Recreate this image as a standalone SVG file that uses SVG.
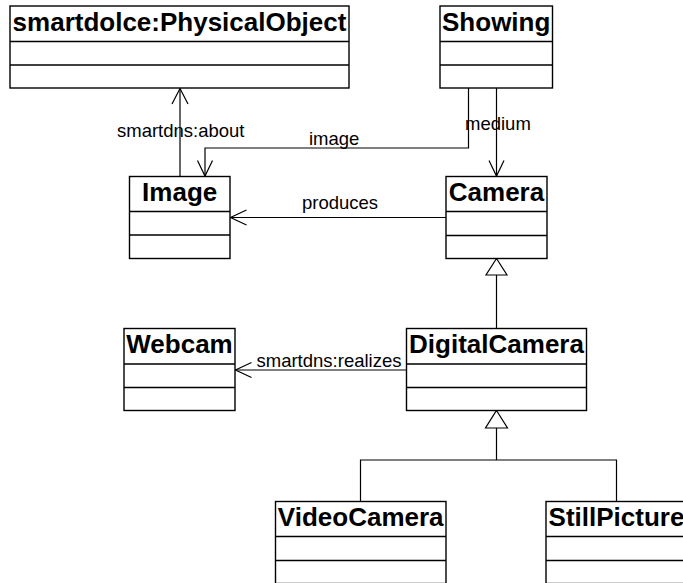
<svg xmlns="http://www.w3.org/2000/svg" width="683" height="583" viewBox="0 0 683 583">
<style>
.box{fill:#fff;stroke:#000;stroke-width:1.4}
.div{stroke:#000;stroke-width:1.4}
.title{font-family:"Liberation Sans",Arial,sans-serif;font-weight:bold;font-size:26px;fill:#000;text-anchor:middle}
.lbl{font-family:"Liberation Sans",Arial,sans-serif;font-size:18.5px;fill:#000}
.edge{fill:none;stroke:#000;stroke-width:1.2}
.tri{fill:#fff;stroke:#000;stroke-width:1.2}
</style>
<rect width="683" height="583" fill="#fff"/>
<g id="connectors">
  <!-- Image -> PhysicalObject -->
  <path class="edge" d="M180,176.5 V88.5"/>
  <path class="edge" d="M172,104 L180,88.5 L188,104"/>
  <!-- Showing -> Image (image) -->
  <path class="edge" d="M468.5,88 V148 H205 V176"/>
  <path class="edge" d="M197.5,160.5 L205,176 L212.5,160.5"/>
  <!-- Showing -> Camera (medium) -->
  <path class="edge" d="M496.5,88 V176"/>
  <path class="edge" d="M489,160.5 L496.5,176 L504,160.5"/>
  <!-- Camera -> Image (produces) -->
  <path class="edge" d="M446,217.5 H230.5"/>
  <path class="edge" d="M246.5,210 L230.5,217.5 L246.5,225"/>
  <!-- DigitalCamera -> Webcam (realizes) -->
  <path class="edge" d="M406.5,370 H235.5"/>
  <path class="edge" d="M251.5,362.5 L235.5,370 L251.5,377.5"/>
  <!-- DigitalCamera -> Camera generalization -->
  <path class="edge" d="M496.5,328.5 V275"/>
  <path class="tri" d="M496.5,258.5 L507,275 L486,275 Z"/>
  <!-- VideoCamera/StillPicture -> DigitalCamera -->
  <path class="edge" d="M496.5,428 V460 M360.5,501.5 V460 H616.5 V501.5"/>
  <path class="tri" d="M496.5,410.5 L507.5,428 L485.5,428 Z"/>
  <text class="lbl" x="117" y="137">smartdns:about</text>
  <text class="lbl" x="309" y="145">image</text>
  <text class="lbl" x="465" y="130">medium</text>
  <text class="lbl" x="302" y="209">produces</text>
  <text class="lbl" x="256.5" y="367">smartdns:realizes</text>
</g>
<g id="PhysicalObject">
  <rect class="box" x="10" y="6" width="339" height="82"/>
  <path class="div" d="M10,41.5 H349 M10,65 H349"/>
  <text class="title" x="179.5" y="30.5">smartdolce:PhysicalObject</text>
</g>
<g id="Showing">
  <rect class="box" x="440" y="6" width="112.5" height="82"/>
  <path class="div" d="M440,41.5 H552.5 M440,65 H552.5"/>
  <text class="title" x="496.2" y="30.5">Showing</text>
</g>
<g id="Image">
  <rect class="box" x="129.5" y="176.5" width="100.5" height="82"/>
  <path class="div" d="M129.5,211.5 H230 M129.5,235 H230"/>
  <text class="title" x="179.7" y="200.5">Image</text>
</g>
<g id="Camera">
  <rect class="box" x="446" y="176.5" width="101" height="82"/>
  <path class="div" d="M446,211.5 H547 M446,235.5 H547"/>
  <text class="title" x="496.5" y="200.5">Camera</text>
</g>
<g id="Webcam">
  <rect class="box" x="124" y="328.5" width="111" height="82"/>
  <path class="div" d="M124,364 H235 M124,387.5 H235"/>
  <text class="title" x="179.5" y="353">Webcam</text>
</g>
<g id="DigitalCamera">
  <rect class="box" x="406.5" y="328.5" width="180" height="82"/>
  <path class="div" d="M406.5,364 H586.5 M406.5,387.5 H586.5"/>
  <text class="title" x="496.5" y="353">DigitalCamera</text>
</g>
<g id="VideoCamera">
  <rect class="box" x="275.5" y="501.5" width="170.5" height="82"/>
  <path class="div" d="M275.5,536.5 H446 M275.5,560.5 H446"/>
  <text class="title" x="360.7" y="526">VideoCamera</text>
</g>
<g id="StillPicture">
  <rect class="box" x="546" y="501.5" width="144" height="82"/>
  <path class="div" d="M546,536.5 H690 M546,560.5 H690"/>
  <text class="title" x="616.5" y="526">StillPicture</text>
</g>
</svg>
